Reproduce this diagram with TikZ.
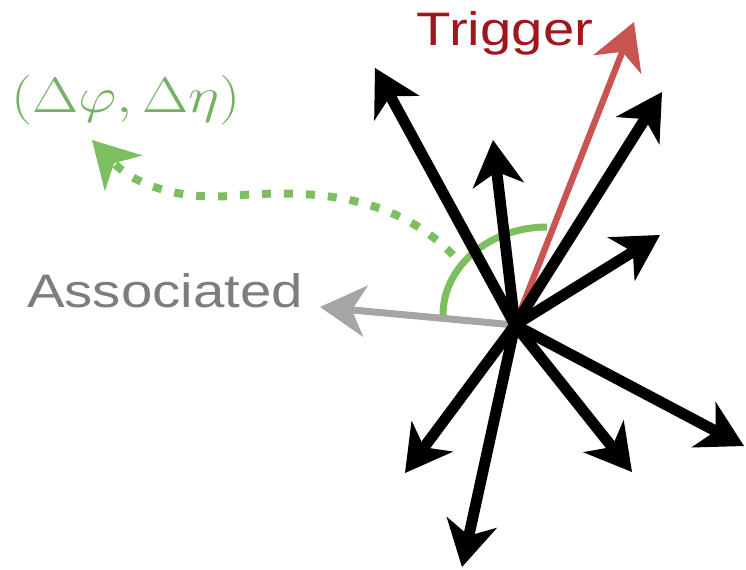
\documentclass[tikz,border=0pt]{standalone}
\usepackage{fontspec}
\setsansfont{Liberation Sans}
\usetikzlibrary{arrows.meta}

\definecolor{trigline}{RGB}{200,85,82}
\definecolor{trigtext}{RGB}{160,22,26}
\definecolor{assocline}{RGB}{165,165,165}
\definecolor{assoctext}{RGB}{125,125,125}
\definecolor{corrgreen}{RGB}{125,190,95}
\definecolor{corrtext}{RGB}{115,178,100}

\begin{document}
\begin{tikzpicture}[
				x=0.5pt, y=-0.5pt,
				line cap=butt,
				line join=round,
				tip/.style={-{Stealth[length=23pt,width=26pt,inset=7pt,line width=0pt]}},
				jet/.style={tip, line width=5.5pt, black},
				label/.style={font=\sffamily\fontsize{23.5pt}{27pt}\selectfont, xscale=1.2, inner sep=0pt, anchor=base}
				]
				\useasboundingbox (0,0) rectangle (746,569);
				
				% Vertex and tips
				\coordinate (O) at (515,325);
				\coordinate (trig) at (634,22);
				\coordinate (assoc) at (320,307);
				\coordinate (j1) at (375,68);
				\coordinate (j2) at (493,140);
				\coordinate (j3) at (662,92);
				\coordinate (j4) at (660,235);
				\coordinate (j5) at (744,446);
				\coordinate (j6) at (632,472);
				\coordinate (j7) at (405,473);
				\coordinate (j8) at (462,567);
				
				% Angle between trigger and associated
				\coordinate (arcA) at (443,315);
				\coordinate (arcB) at (547,227);
				\draw[corrgreen, line width=3.5pt] (arcA) .. controls (443,266) and (490,227) .. (arcB);
				
				% Dotted arrow to the label
				\coordinate (dotA) at (453,255);
				\coordinate (dotM) at (230,196);
				\coordinate (dotB) at (92,140);
				\draw[tip, corrgreen, line width=4pt, dash pattern=on 4.5pt off 6.5pt]
					(dotA) .. controls (390,190) and (300,190) .. (dotM)
					.. controls (170,200) and (130,180) .. (dotB);
				
				% Associated particle
				\draw[tip, assocline, line width=3.5pt] (O) -- (assoc);
				
				% Trigger particle
				\draw[tip, trigline, line width=3.2pt] (O) -- (trig);
				
				% Other particles
				\draw[jet] (O) -- (j1);
				\draw[jet] (O) -- (j2);
				\draw[jet] (O) -- (j3);
				\draw[jet] (O) -- (j4);
				\draw[jet] (O) -- (j5);
				\draw[jet] (O) -- (j6);
				\draw[jet] (O) -- (j7);
				\draw[jet] (O) -- (j8);
				
				% Labels
				\node[label, text=trigtext] (trigger) at (505,45) {Trigger};
				\node[label, text=assoctext] (associated) at (165,307) {Associated};
				\node[label, text=corrtext, font=\fontsize{23.5pt}{27pt}\selectfont] (deltas) at (126,112) {$(\Delta\varphi, \Delta\eta)$};
			\end{tikzpicture}
\end{document}
